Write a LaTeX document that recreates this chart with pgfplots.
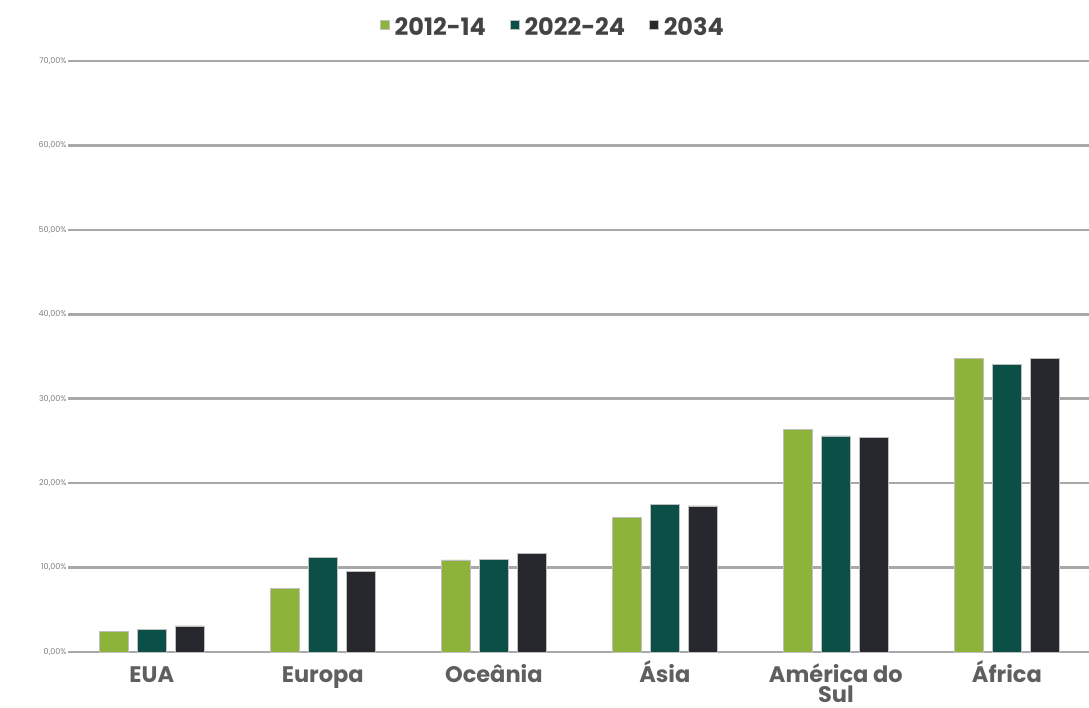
\documentclass[border=0pt]{standalone}
\usepackage{fontspec}
\setmainfont{Poppins}
\usepackage{pgfplots}
\pgfplotsset{compat=1.18}
\definecolor{cgreen}{HTML}{8DB33A}
\definecolor{cteal}{HTML}{0B4F47}
\definecolor{cdark}{HTML}{26282D}
\definecolor{cgrid}{HTML}{A8A8A8}
\definecolor{ctext}{HTML}{5F5F5F}
\begin{document}
\begin{tikzpicture}
\begin{axis}[
  at={(0,0)}, anchor=south west,
  scale only axis,
  width=1021pt, height=591pt,
  xmin=-0.49, xmax=5.48,
  ymin=0, ymax=70,
  clip=false,
  axis line style={draw=none},
  ymajorgrids,
  grid style={cgrid, line width=2.5pt},
  ytick={0,10,20,30,40,50,60,70},
  yticklabels={{0,00\%},{10,00\%},{20,00\%},{30,00\%},{40,00\%},{50,00\%},{60,00\%},{70,00\%}},
  yticklabel style={font=\fontsize{8}{9}\selectfont, text=ctext!80, xshift=2pt},
  /pgf/number format/assume math mode=true,
  major tick length=0pt,
  xtick={0,1,2,3,4,5},
  xticklabels={\vphantom{Á}EUA, \vphantom{Á}Europa, \vphantom{Á}Oceânia, \vphantom{Á}Ásia, {\vphantom{Á}América do\\Sul}, \vphantom{Á}África},
  xticklabel style={font=\fontsize{22.5}{20.5}\selectfont\bfseries, text=ctext, align=center, anchor=north, inner sep=0pt, yshift=-8pt},
  ybar, bar width=29pt,
  legend style={at={(0.475,1.0)}, anchor=south, yshift=20pt, draw=none, fill=none,
    legend columns=3, font=\fontsize{24}{26}\selectfont\bfseries, text=ctext!70!black,
    /tikz/every odd column/.append style={column sep=3pt},
    /tikz/every even column/.append style={column sep=22pt}},
  legend image code/.code={\fill[#1] (0pt,-2pt) rectangle (9pt,7pt);},
]
\addplot[fill=cgreen, draw=gray!50, line width=0.6pt, bar shift=-38pt] coordinates {(0,2.4) (1,7.5) (2,10.9) (3,15.9) (4,26.4) (5,34.8)};
\addplot[fill=cteal, draw=gray!50, line width=0.6pt, bar shift=0pt] coordinates {(0,2.7) (1,11.2) (2,11.0) (3,17.5) (4,25.6) (5,34.1)};
\addplot[fill=cdark, draw=gray!50, line width=0.6pt, bar shift=38pt] coordinates {(0,3.1) (1,9.5) (2,11.7) (3,17.3) (4,25.4) (5,34.8)};
\legend{2012-14, 2022-24, 2034}
\end{axis}
\pgfresetboundingbox
\path[use as bounding box] (-68pt,-56pt) rectangle (1021pt,652pt);
\end{tikzpicture}
\end{document}
